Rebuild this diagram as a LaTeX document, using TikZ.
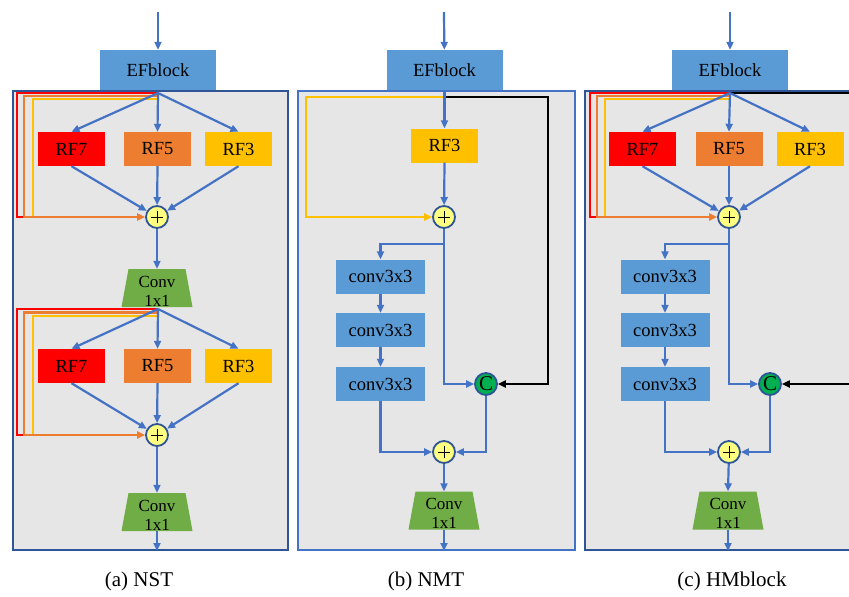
\documentclass[tikz,border=0pt]{standalone}
\usepackage{fontspec}
\setmainfont{Liberation Serif}
\usetikzlibrary{arrows.meta,calc}
\definecolor{flowblue}{HTML}{4472C4}
\definecolor{framedark}{HTML}{2F5597}
\definecolor{panelgray}{HTML}{E6E6E6}
\definecolor{blockblue}{HTML}{5B9BD5}
\definecolor{rfred}{HTML}{FF0000}
\definecolor{rforange}{HTML}{ED7D31}
\definecolor{rfyellow}{HTML}{FFC000}
\definecolor{convgreen}{HTML}{70AD47}
\definecolor{sumyellow}{HTML}{FFFF80}
\definecolor{catgreen}{HTML}{00B050}

\tikzset{
  panel/.style={fill=panelgray, draw=framedark, line width=2.4pt},
  blk/.style={rectangle, inner sep=0pt, font=\fontsize{18.5}{20}\selectfont},
  efbox/.style={blk, fill=blockblue, minimum width=116pt, minimum height=40pt},
  rfbox/.style={blk, minimum width=67pt, minimum height=34pt},
  convbox/.style={blk, fill=blockblue, minimum width=89pt, minimum height=34pt},
  trap/.style={rectangle, inner sep=0pt, minimum width=71pt, minimum height=38pt,
    path picture={\fill[convgreen]
      ([xshift=7pt]path picture bounding box.north west) --
      ([xshift=-7pt]path picture bounding box.north east) --
      (path picture bounding box.south east) --
      (path picture bounding box.south west) -- cycle;},
    label={[inner sep=0pt, yshift=-3pt, align=center,
      font=\fontsize{17}{19}\selectfont]center:Conv\\1x1}},
  sumnode/.style={circle, minimum size=22pt, inner sep=0pt, fill=sumyellow,
    draw=framedark, line width=1.8pt,
    path picture={\draw[black, line width=0.7pt]
      ([xshift=-6pt]path picture bounding box.center) --
      ([xshift=6pt]path picture bounding box.center)
      ([yshift=-6pt]path picture bounding box.center) --
      ([yshift=6pt]path picture bounding box.center);}},
  catnode/.style={circle, minimum size=22pt, inner sep=0pt, fill=catgreen,
    draw=framedark, line width=1.8pt, font=\fontsize{21}{21}\selectfont},
  flow/.style={draw=flowblue, line width=2.2pt, -{Triangle[length=8pt,width=7pt]}},
  flowline/.style={draw=flowblue, line width=2.2pt},
  skip/.style={line width=2.6pt},
  skiparrow/.style={line width=2.6pt, -{Triangle[length=8pt,width=7pt]}},
  catline/.style={draw=black, line width=2.4pt, -{Triangle[length=8pt,width=7pt]}},
  caption/.style={font=\fontsize{21}{23}\selectfont}
}

\begin{document}
\begin{tikzpicture}[x=1pt, y=-1pt]
\fill[white] (0,0) rectangle (849,597);
\useasboundingbox (0,0) rectangle (849,597);
\clip (0,0) rectangle (849,597);

% panel frames
\draw[panel] (13,91) rectangle (288,550);
\draw[panel, draw=flowblue] (298,91) rectangle (575,550);
\draw[panel] (585,91) rectangle (880,550);

%% ---------------- (a) NST ----------------
\node[efbox] (efA) at (158,70) {EFblock};
\coordinate (inA) at (158,12);
\draw[flow] (inA) -- (efA);
\coordinate (brA) at (158,93);

\node[rfbox, fill=rfred]    (rf7A) at (71.5,149)  {RF7};
\node[rfbox, fill=rforange] (rf5A) at (157.5,149) {RF5};
\node[rfbox, fill=rfyellow] (rf3A) at (238.5,149) {RF3};
\node[sumnode] (sA1) at (157,217) {};

\coordinate (redA1) at (17,217);
\coordinate (oraA1) at (24,217);
\coordinate (yelA1) at (33,217);
\draw[skip, rfred] (brA) -| (redA1) -- (oraA1);
\draw[skip, rfyellow] ($(brA)+(0,6)$) -| (yelA1);
\draw[skiparrow, rforange] ($(brA)+(0,3)$) -| (oraA1) -- (sA1.west);

\draw[flow] (brA) -- (rf7A.north);
\draw[flow] (brA) -- (rf5A.north);
\draw[flow] (brA) -- (rf3A.north);
\draw[flow] (rf7A.south) -- (sA1);
\draw[flow] (rf5A.south) -- (sA1);
\draw[flow] (rf3A.south) -- (sA1);

\node[trap] (cvA1) at (157,288) {};
\draw[flow] (sA1) -- (cvA1.north);

\coordinate (brA2) at (158,309);
\node[rfbox, fill=rfred]    (rf7A2) at (71.5,366)  {RF7};
\node[rfbox, fill=rforange] (rf5A2) at (157.5,366) {RF5};
\node[rfbox, fill=rfyellow] (rf3A2) at (238.5,366) {RF3};
\node[sumnode] (sA2) at (157,435) {};

\coordinate (redA2) at (17,435);
\coordinate (oraA2) at (24,435);
\coordinate (yelA2) at (33,435);
\draw[skip, rfred] (brA2) -| (redA2) -- (oraA2);
\draw[skip, rfyellow] ($(brA2)+(0,7)$) -| (yelA2);
\draw[skiparrow, rforange] ($(brA2)+(0,3.5)$) -| (oraA2) -- (sA2.west);

\draw[flow] (brA2) -- (rf7A2.north);
\draw[flow] (brA2) -- (rf5A2.north);
\draw[flow] (brA2) -- (rf3A2.north);
\draw[flow] (rf7A2.south) -- (sA2);
\draw[flow] (rf5A2.south) -- (sA2);
\draw[flow] (rf3A2.south) -- (sA2);

\node[trap] (cvA2) at (157,512) {};
\draw[flow] (sA2) -- (cvA2.north);
\coordinate (outA) at (157,551);
\draw[flow] (cvA2.south) -- (outA);

\node[caption] (capA) at (139,581) {(a) NST};

%% ---------------- (b) NMT ----------------
\node[efbox] (efB) at (444.5,70) {EFblock};
\coordinate (inB) at (444,12);
\draw[flow] (inB) -- (efB);
\coordinate (brB) at (444,97);

\node[rfbox, fill=rfyellow] (rf3B) at (444.5,145.5) {RF3};
\node[sumnode] (sB1) at (444,217) {};
\node[catnode] (cB) at (486,384) {C};

\coordinate (yelB) at (306,217);
\coordinate (kB) at (548,384);
\draw[skiparrow, rfyellow] (brB) -| (yelB) -- (sB1.west);
\draw[catline] (brB) -| (kB) -- (cB.east);

\draw[flow] (efB.south) -- (rf3B.north);
\draw[flow] (rf3B.south) -- (sB1);

\node[convbox] (cv1B) at (380.5,276.5) {conv3x3};
\node[convbox] (cv2B) at (380.5,330)   {conv3x3};
\node[convbox] (cv3B) at (380.5,384)   {conv3x3};
\node[sumnode] (sB2) at (444,452) {};

\coordinate (jB) at (444,244);
\draw[flowline] (sB1.south) -- (jB);
\draw[flow] (jB) -| (cv1B.north);
\draw[flow] (jB) |- (cB.west);
\draw[flow] (cv1B) -- (cv2B);
\draw[flow] (cv2B) -- (cv3B);
\draw[flow] (cv3B.south) |- (sB2.west);
\draw[flow] (cB.south) |- (sB2.east);

\node[trap] (cvB) at (444,510.5) {};
\draw[flow] (sB2) -- (cvB.north);
\coordinate (outB) at (444,551);
\draw[flow] (cvB.south) -- (outB);

\node[caption] (capB) at (426,581) {(b) NMT};

%% ---------------- (c) HMblock ----------------
\node[efbox] (efC) at (730,70) {EFblock};
\coordinate (inC) at (730,12);
\draw[flow] (inC) -- (efC);
\coordinate (brC) at (730,93);

\node[rfbox, fill=rfred]    (rf7C) at (642.5,149) {RF7};
\node[rfbox, fill=rforange] (rf5C) at (729,149)   {RF5};
\node[rfbox, fill=rfyellow] (rf3C) at (810,149)   {RF3};
\node[sumnode] (sC1) at (729,217) {};
\node[catnode] (cC) at (770,384) {C};

\coordinate (redC) at (590,217);
\coordinate (oraC) at (597,217);
\coordinate (yelC) at (605,217);
\coordinate (kC) at (880,384);
\draw[catline] (brC) -| (kC) -- (cC.east);
\draw[skip, rfred] (brC) -| (redC) -- (oraC);
\draw[skip, rfyellow] ($(brC)+(0,6)$) -| (yelC);
\draw[skiparrow, rforange] ($(brC)+(0,3)$) -| (oraC) -- (sC1.west);

\draw[flow] (brC) -- (rf7C.north);
\draw[flow] (brC) -- (rf5C.north);
\draw[flow] (brC) -- (rf3C.north);
\draw[flow] (rf7C.south) -- (sC1);
\draw[flow] (rf5C.south) -- (sC1);
\draw[flow] (rf3C.south) -- (sC1);

\node[convbox] (cv1C) at (665,276.5) {conv3x3};
\node[convbox] (cv2C) at (665,330)   {conv3x3};
\node[convbox] (cv3C) at (665,384)   {conv3x3};
\node[sumnode] (sC2) at (729,452) {};

\coordinate (jC) at (729,244);
\draw[flowline] (sC1.south) -- (jC);
\draw[flow] (jC) -| (cv1C.north);
\draw[flow] (jC) |- (cC.west);
\draw[flow] (cv1C) -- (cv2C);
\draw[flow] (cv2C) -- (cv3C);
\draw[flow] (cv3C.south) |- (sC2.west);
\draw[flow] (cC.south) |- (sC2.east);

\node[trap] (cvC) at (728,510.5) {};
\draw[flow] (sC2) -- (cvC.north);
\coordinate (outC) at (728,551);
\draw[flow] (cvC.south) -- (outC);

\node[caption] (capC) at (732,581) {(c) HMblock};
\end{tikzpicture}
\end{document}
